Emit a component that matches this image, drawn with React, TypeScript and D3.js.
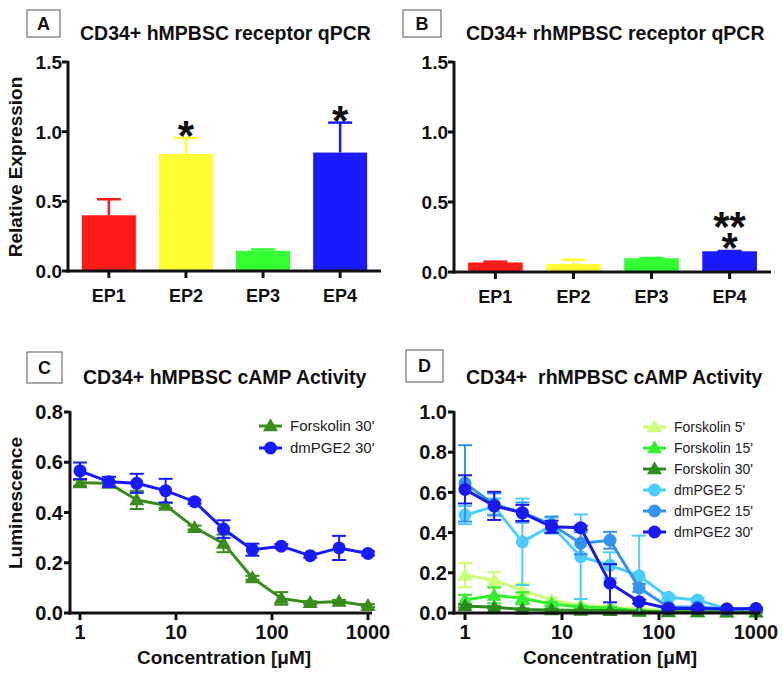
import React from "react";
import * as d3 from "d3";

// ---------- DATA ----------
const qpcrCategories = ["EP1", "EP2", "EP3", "EP4"];
const barColors = ["#ff1a1a", "#ffff33", "#33ff33", "#1a1aff"];
const barTicks = [0, 0.5, 1.0, 1.5];

const hMeans = [0.4, 0.84, 0.145, 0.85];
const hErrors = [0.115, 0.115, 0.01, 0.215];
const hSig = [[], ["*"], [], ["*"]];

const rhMeans = [0.068, 0.058, 0.098, 0.148];
const rhErrors = [0.006, 0.03, 0.002, 0.002];
const rhSig = [[], [], [], ["**", "*"]];

const concentrations = [1, 2, 3.9, 7.8, 15.6, 31.25, 62.5, 125, 250, 500, 1000];
const logTicks = [1, 10, 100, 1000];
const cTicks = [0, 0.2, 0.4, 0.6, 0.8];
const dTicks = [0, 0.2, 0.4, 0.6, 0.8, 1.0];

// Panel C
const cForsk30 = [0.518, 0.516, 0.45, 0.428, 0.34, 0.277, 0.14, 0.058, 0.041, 0.046, 0.029];
const cForsk30Err = [0.012, 0.008, 0.036, 0.01, 0.008, 0.035, 0.008, 0.025, 0.006, 0.006, 0.006];
const cDm30 = [0.566, 0.522, 0.516, 0.487, 0.443, 0.334, 0.252, 0.266, 0.228, 0.259, 0.237];
const cDm30Err = [0.033, 0.02, 0.038, 0.047, 0.008, 0.035, 0.024, 0.008, 0.008, 0.048, 0.008];

// Panel D
const dForsk5 = [0.188, 0.163, 0.113, 0.065, 0.038, 0.03, 0.02, 0.012, 0.01, 0.008, 0.008];
const dForsk5Err = [0.06, 0.04, 0.035, 0.01, 0.006, 0.005, 0.004, 0.003, 0.003, 0.002, 0.002];
const dForsk15 = [0.065, 0.088, 0.073, 0.045, 0.03, 0.025, 0.01, 0.008, 0.005, 0.005, 0.005];
const dForsk15Err = [0.025, 0.04, 0.03, 0.01, 0.006, 0.005, 0.004, 0.003, 0.002, 0.002, 0.002];
const dForsk30 = [0.035, 0.028, 0.018, 0.015, 0.013, 0.012, 0.008, 0.005, 0.005, 0.004, 0.004];
const dForsk30Err = [0.008, 0.006, 0.005, 0.004, 0.003, 0.003, 0.002, 0.002, 0.002, 0.002, 0.002];
const dDm5 = [0.487, 0.53, 0.354, 0.435, 0.28, 0.237, 0.185, 0.078, 0.065, 0.02, 0.02];
const dDm5Err = [0.045, 0.04, 0.215, 0.04, 0.21, 0.065, 0.2, 0.01, 0.01, 0.005, 0.005];
const dDm15 = [0.645, 0.54, 0.5, 0.44, 0.347, 0.362, 0.125, 0.03, 0.03, 0.02, 0.02];
const dDm15Err = [0.19, 0.055, 0.05, 0.04, 0.055, 0.042, 0.02, 0.006, 0.006, 0.004, 0.004];
const dDm30 = [0.615, 0.533, 0.498, 0.429, 0.424, 0.148, 0.056, 0.023, 0.022, 0.02, 0.022];
const dDm30Err = [0.07, 0.07, 0.04, 0.03, 0.01, 0.095, 0.01, 0.004, 0.004, 0.004, 0.004];

const cSeries = [
  { name: "Forskolin 30'", values: cForsk30, errors: cForsk30Err, color: "#3a8c1e", shape: "triangle" },
  { name: "dmPGE2 30'", values: cDm30, errors: cDm30Err, color: "#1a1aff", shape: "circle" },
];
const dSeries = [
  { name: "Forskolin 5'", values: dForsk5, errors: dForsk5Err, color: "#ccff77", shape: "triangle" },
  { name: "Forskolin 15'", values: dForsk15, errors: dForsk15Err, color: "#33ee33", shape: "triangle" },
  { name: "Forskolin 30'", values: dForsk30, errors: dForsk30Err, color: "#2e8a1e", shape: "triangle" },
  { name: "dmPGE2 5'", values: dDm5, errors: dDm5Err, color: "#4dccff", shape: "circle" },
  { name: "dmPGE2 15'", values: dDm15, errors: dDm15Err, color: "#3394ee", shape: "circle" },
  { name: "dmPGE2 30'", values: dDm30, errors: dDm30Err, color: "#1a1aee", shape: "circle" },
];

const FONT = "'Liberation Sans', Arial, Helvetica, sans-serif";

function LetterBox({ x, y, w, h, letter }) {
  return (
    <g>
      <rect x={x} y={y} width={w} height={h} fill="white" stroke="#555" strokeWidth={1} />
      <text x={x + w / 2} y={y + h / 2} dy="0.36em" textAnchor="middle" fontFamily={FONT} fontWeight="bold" fontSize={18} fill="#111">
        {letter}
      </text>
    </g>
  );
}

function BarPanel({ axisX, axisRight, yTop, yBottom, means, errors, sig }) {
  const y = d3.scaleLinear().domain([0, 1.5]).range([yBottom, yTop]);
  const x = d3.scaleBand().domain(qpcrCategories).range([axisX, axisRight]).paddingInner(0.3).paddingOuter(0.18);
  return (
    <g>
      {qpcrCategories.map((c, i) => {
        const bx = x(c);
        const bw = x.bandwidth();
        const cx = bx + bw / 2;
        const top = y(means[i]);
        const et = y(means[i] + errors[i]);
        const n = sig[i].length;
        const firstCenter = n > 1 ? et - 33 : et - 11;
        return (
          <g key={c}>
            <line x1={cx} x2={cx} y1={top} y2={et} stroke={barColors[i]} strokeWidth={2.5} />
            <line x1={cx - 12} x2={cx + 12} y1={et} y2={et} stroke={barColors[i]} strokeWidth={2.5} />
            <rect x={bx} y={top} width={bw} height={yBottom - top} fill={barColors[i]} />
            {n > 0 && (
              <text x={cx} y={firstCenter + 23} textAnchor="middle" fontFamily={FONT} fontWeight="bold" fontSize={42} fill="#111">
                {sig[i].map((s, k) => (
                  <tspan key={k} x={cx} dy={k === 0 ? 0 : 21}>{s}</tspan>
                ))}
              </text>
            )}
            <line x1={cx} x2={cx} y1={yBottom} y2={yBottom + 7} stroke="#111" strokeWidth={3} />
            <text x={cx} y={yBottom + 31} textAnchor="middle" fontFamily={FONT} fontWeight="bold" fontSize={18} fill="#111">
              {c}
            </text>
          </g>
        );
      })}
      <line x1={axisX} x2={axisX} y1={yTop - 1} y2={yBottom + 1.5} stroke="#111" strokeWidth={3} />
      <line x1={axisX - 1.5} x2={axisRight} y1={yBottom} y2={yBottom} stroke="#111" strokeWidth={3} />
      {barTicks.map((t) => (
        <g key={t}>
          <line x1={axisX - 6} x2={axisX} y1={y(t)} y2={y(t)} stroke="#111" strokeWidth={3} />
          <text x={axisX - 6} y={y(t)} dy="0.36em" textAnchor="end" fontFamily={FONT} fontWeight="bold" fontSize={19} fill="#111">
            {t.toFixed(1)}
          </text>
        </g>
      ))}
    </g>
  );
}

function Marker({ shape, x, y, color, size }) {
  if (shape === "circle") return <circle cx={x} cy={y} r={size} fill={color} />;
  const path = d3.symbol(d3.symbolTriangle, size * size * 2.0)();
  return <path d={path} transform={`translate(${x},${y + 1})`} fill={color} />;
}

function LinePanel({ axisX, x1px, x1000px, axisRight, yTop, yBottom, yMax, ticks, series, legendX, legendY, legendStep, legendFont }) {
  const x = d3.scaleLog().domain([1, 1000]).range([x1px, x1000px]);
  const y = d3.scaleLinear().domain([0, yMax]).range([yBottom, yTop]);
  const line = d3.line().x((d) => x(d[0])).y((d) => y(d[1]));
  return (
    <g>
      {series.map((s) => {
        const pts = concentrations.map((c, i) => [c, s.values[i]]);
        return (
          <g key={s.name}>
            {concentrations.map((c, i) => {
              const cx = x(c);
              const lo = y(Math.max(0, s.values[i] - s.errors[i]));
              const hi = y(s.values[i] + s.errors[i]);
              return (
                <g key={i}>
                  <line x1={cx} x2={cx} y1={lo} y2={hi} stroke={s.color} strokeWidth={2} />
                  <line x1={cx - 7} x2={cx + 7} y1={hi} y2={hi} stroke={s.color} strokeWidth={2} />
                  <line x1={cx - 7} x2={cx + 7} y1={lo} y2={lo} stroke={s.color} strokeWidth={2} />
                </g>
              );
            })}
            <path d={line(pts)} fill="none" stroke={s.color} strokeWidth={3} />
            {pts.map((p, i) => (
              <Marker key={i} shape={s.shape} x={x(p[0])} y={y(p[1])} color={s.color} size={s.shape === "circle" ? 6.5 : 7} />
            ))}
          </g>
        );
      })}
      <line x1={axisX} x2={axisX} y1={yTop - 1} y2={yBottom + 1.5} stroke="#111" strokeWidth={3} />
      <line x1={axisX - 1.5} x2={axisRight} y1={yBottom} y2={yBottom} stroke="#111" strokeWidth={3} />
      {ticks.map((t) => (
        <g key={t}>
          <line x1={axisX - 6} x2={axisX} y1={y(t)} y2={y(t)} stroke="#111" strokeWidth={3} />
          <text x={axisX - 7} y={y(t)} dy="0.36em" textAnchor="end" fontFamily={FONT} fontWeight="bold" fontSize={20} fill="#111">
            {t.toFixed(1)}
          </text>
        </g>
      ))}
      {logTicks.map((t) => (
        <g key={t}>
          <line x1={x(t)} x2={x(t)} y1={yBottom} y2={yBottom + 7} stroke="#111" strokeWidth={3} />
          <text x={x(t)} y={yBottom + 26} textAnchor="middle" fontFamily={FONT} fontWeight="bold" fontSize={20} fill="#111">
            {t}
          </text>
        </g>
      ))}
      <text x={(axisX + axisRight) / 2 + 3} y={yBottom + 51} textAnchor="middle" fontFamily={FONT} fontWeight="bold" fontSize={19} fill="#111">
        Concentration [μM]
      </text>
      {series.map((s, i) => {
        const ly = legendY + i * legendStep;
        return (
          <g key={"lg" + i}>
            <line x1={legendX} x2={legendX + 23} y1={ly} y2={ly} stroke={s.color} strokeWidth={3} />
            <Marker shape={s.shape} x={legendX + 11.5} y={ly} color={s.color} size={s.shape === "circle" ? 6.5 : 7} />
            <text x={legendX + 31} y={ly} dy="0.36em" fontFamily={FONT} fontSize={legendFont} fill="#222">
              {s.name}
            </text>
          </g>
        );
      })}
    </g>
  );
}

export default function App() {
  return (
    <svg width={782} height={677} viewBox="0 0 782 677" style={{ position: "absolute", left: 0, top: 0, background: "white" }}>
      <rect x={0} y={0} width={782} height={677} fill="white" />
      {/* Panel A */}
      <LetterBox x={27} y={10} w={33} h={27} letter="A" />
      <text x={80} y={40} fontFamily={FONT} fontWeight="bold" fontSize={19.5} fill="#111">CD34+ hMPBSC receptor qPCR</text>
      <text transform="translate(22,167) rotate(-90)" textAnchor="middle" fontFamily={FONT} fontWeight="bold" fontSize={19} fill="#111">Relative Expression</text>
      <BarPanel axisX={68} axisRight={381} yTop={62} yBottom={271} means={hMeans} errors={hErrors} sig={hSig} />

      {/* Panel B */}
      <LetterBox x={403} y={10} w={38} h={27} letter="B" />
      <text x={466} y={40} fontFamily={FONT} fontWeight="bold" fontSize={19.5} fill="#111">CD34+ rhMPBSC receptor qPCR</text>
      <BarPanel axisX={454} axisRight={771} yTop={62} yBottom={272} means={rhMeans} errors={rhErrors} sig={rhSig} />

      {/* Panel C */}
      <LetterBox x={27} y={352} w={35} h={31} letter="C" />
      <text x={83} y={384} fontFamily={FONT} fontWeight="bold" fontSize={19.5} fill="#111">CD34+ hMPBSC cAMP Activity</text>
      <text transform="translate(22,503) rotate(-90)" textAnchor="middle" fontFamily={FONT} fontWeight="bold" fontSize={19} fill="#111">Luminescence</text>
      <LinePanel axisX={70} x1px={80} x1000px={368} axisRight={372} yTop={412} yBottom={613} yMax={0.8} ticks={cTicks}
        series={cSeries} legendX={259} legendY={426} legendStep={22} legendFont={15} />

      {/* Panel D */}
      <LetterBox x={406} y={350} w={37} h={32} letter="D" />
      <text x={466} y={384} fontFamily={FONT} fontWeight="bold" fontSize={19.5} fill="#111" style={{ whiteSpace: "pre" }}>CD34+  rhMPBSC cAMP Activity</text>
      <LinePanel axisX={454} x1px={465} x1000px={756} axisRight={760} yTop={412} yBottom={613} yMax={1.0} ticks={dTicks}
        series={dSeries} legendX={643} legendY={427} legendStep={21} legendFont={14} />
    </svg>
  );
}
